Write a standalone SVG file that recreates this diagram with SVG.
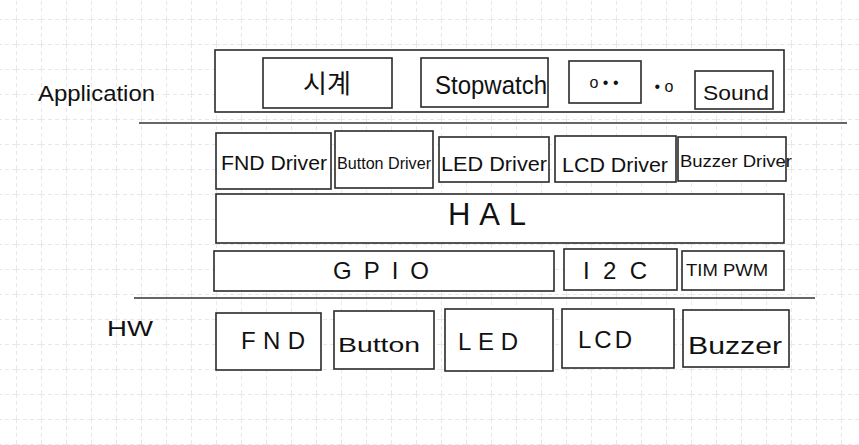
<svg xmlns="http://www.w3.org/2000/svg" width="859" height="445" viewBox="0 0 859 445">
<style>
.box{fill:#fff;stroke:#2a2a2a;stroke-width:1.6}
.sep{stroke:#333;stroke-width:1.6;fill:none}
text{font-family:"Liberation Sans","Noto Sans CJK KR",sans-serif;fill:#111;text-anchor:middle;dominant-baseline:central}
.xl{font-size:31px}
.lg{font-size:26px}
.ml{font-size:24px}
.md{font-size:21px}
.sm{font-size:16px}
.lab{font-size:22px;text-anchor:start}
</style>
<defs>
<pattern id="grid" x="16" y="19" width="25" height="25" patternUnits="userSpaceOnUse">
<path d="M0 0.5H25M0.5 0V25" stroke="#e8e8e8" stroke-width="1" stroke-dasharray="4 3" fill="none"/>
</pattern>
</defs>
<rect width="859" height="445" fill="#fff"/>
<rect width="859" height="445" fill="url(#grid)"/>

<g id="label-application"><text class="lab" x="38" y="93" textLength="117" lengthAdjust="spacingAndGlyphs">Application</text></g>
<g id="label-hw"><text class="lab" x="107" y="328" textLength="46" lengthAdjust="spacingAndGlyphs">HW</text></g>

<g id="application"><rect class="box" x="215" y="50" width="569" height="62"/></g>
<g id="clock"><rect class="box" x="263" y="58" width="129" height="50"/><text class="lg" x="327" y="84">시계</text></g>
<g id="stopwatch"><rect class="box" x="421" y="58" width="127" height="49"/><text class="lg" x="491" y="85" textLength="112" lengthAdjust="spacingAndGlyphs">Stopwatch</text></g>
<g id="etc"><rect class="box" x="569" y="61" width="72" height="42"/><text class="sm" x="604" y="82">o • •</text><text class="sm" x="664" y="86">• o</text></g>
<g id="sound"><rect class="box" x="695" y="71" width="78" height="38"/><text class="md" x="736" y="92" textLength="66" lengthAdjust="spacingAndGlyphs">Sound</text></g>

<g id="connectors">
<line class="sep" x1="139" y1="123" x2="847" y2="123"/>
<line class="sep" x1="134" y1="298" x2="815" y2="298"/>
</g>

<g id="fnd-driver"><rect class="box" x="216" y="133" width="115" height="56"/><text class="md" x="274" y="162" textLength="106" lengthAdjust="spacingAndGlyphs">FND Driver</text></g>
<g id="button-driver"><rect class="box" x="335" y="131" width="98" height="57"/><text class="sm" x="384" y="163" textLength="94" lengthAdjust="spacingAndGlyphs">Button Driver</text></g>
<g id="led-driver"><rect class="box" x="439" y="137" width="110" height="45"/><text class="md" x="494" y="163" textLength="106" lengthAdjust="spacingAndGlyphs">LED Driver</text></g>
<g id="lcd-driver"><rect class="box" x="555" y="136" width="121" height="46"/><text class="md" x="615" y="164" textLength="106" lengthAdjust="spacingAndGlyphs">LCD Driver</text></g>
<g id="buzzer-driver"><rect class="box" x="678" y="137" width="108" height="44"/><text class="sm" x="736" y="161" textLength="112" lengthAdjust="spacingAndGlyphs">Buzzer Driver</text></g>

<g id="hal"><rect class="box" x="216" y="194" width="568" height="49"/><text class="xl" x="487" y="214" textLength="78" lengthAdjust="spacing">HAL</text></g>

<g id="gpio"><rect class="box" x="214" y="251" width="340" height="40"/><text class="ml" x="381" y="270" textLength="96" lengthAdjust="spacing">GPIO</text></g>
<g id="i2c"><rect class="box" x="564" y="249" width="113" height="41"/><text class="ml" x="615" y="270" textLength="64" lengthAdjust="spacing">I2C</text></g>
<g id="tim-pwm"><rect class="box" x="682" y="251" width="102" height="39"/><text class="sm" x="727" y="270" textLength="82" lengthAdjust="spacingAndGlyphs">TIM PWM</text></g>

<g id="fnd"><rect class="box" x="216" y="313" width="105" height="57"/><text class="ml" x="273" y="340" textLength="64" lengthAdjust="spacing">FND</text></g>
<g id="button"><rect class="box" x="334" y="311" width="100" height="58"/><text class="md" x="379" y="344" textLength="82" lengthAdjust="spacingAndGlyphs">Button</text></g>
<g id="led"><rect class="box" x="445" y="309" width="108" height="62"/><text class="ml" x="488" y="341" textLength="60" lengthAdjust="spacing">LED</text></g>
<g id="lcd"><rect class="box" x="562" y="309" width="112" height="59"/><text class="ml" x="605" y="339" textLength="54" lengthAdjust="spacing">LCD</text></g>
<g id="buzzer"><rect class="box" x="683" y="310" width="106" height="57"/><text class="ml" x="735" y="345" textLength="94" lengthAdjust="spacingAndGlyphs">Buzzer</text></g>
</svg>
